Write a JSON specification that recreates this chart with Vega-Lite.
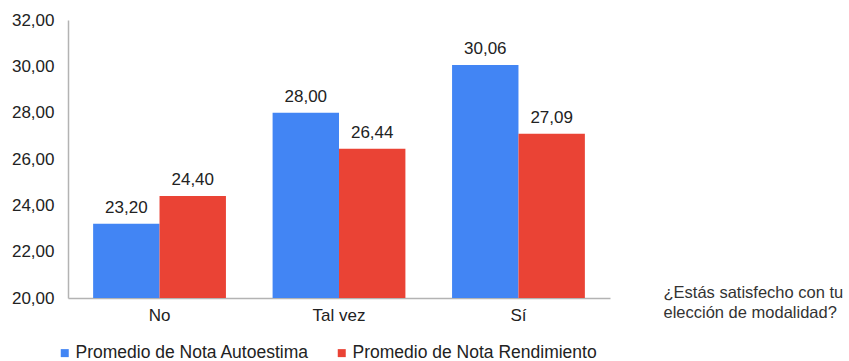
{
  "$schema": "https://vega.github.io/schema/vega-lite/v6.json",
  "width": 542,
  "height": 278,
  "autosize": {"type": "none"},
  "padding": {"left": 68, "top": 20, "right": 239, "bottom": 63},
  "background": "white",
  "config": {
    "view": {"stroke": null},
    "font": "Liberation Sans",
    "locale": {"number": {"decimal": ",", "thousands": ".", "grouping": [3], "currency": ["", ""]}}
  },
  "data": {
    "values": [
      {"cat": "No", "serie": "Promedio de Nota Autoestima", "valor": 23.20},
      {"cat": "No", "serie": "Promedio de Nota Rendimiento", "valor": 24.40},
      {"cat": "Tal vez", "serie": "Promedio de Nota Autoestima", "valor": 28.00},
      {"cat": "Tal vez", "serie": "Promedio de Nota Rendimiento", "valor": 26.44},
      {"cat": "Sí", "serie": "Promedio de Nota Autoestima", "valor": 30.06},
      {"cat": "Sí", "serie": "Promedio de Nota Rendimiento", "valor": 27.09}
    ]
  },
  "encoding": {
    "x": {
      "field": "cat", "type": "nominal", "sort": ["No", "Tal vez", "Sí"],
      "scale": {"paddingInner": 0.26, "paddingOuter": 0.14},
      "axis": {
        "title": ["¿Estás satisfecho con tu", "elección de modalidad?"],
        "titleX": 595, "titleY": -14, "titleAlign": "left", "titleBaseline": "top",
        "titleAnchor": null, "titleAngle": 0,
        "titleFontSize": 16.5, "titleFontWeight": "normal", "titleColor": "#333333", "titleLineHeight": 20,
        "labelAngle": 0, "labelFontSize": 17, "labelColor": "#222222", "labelPadding": 9,
        "ticks": false, "tickSize": 0, "domainColor": "#b3b3b3", "domainWidth": 1.5, "grid": false
      }
    },
    "xOffset": {"field": "serie", "type": "nominal"},
    "y": {
      "field": "valor", "type": "quantitative",
      "scale": {"domain": [20, 32], "zero": false, "nice": false},
      "axis": {
        "title": null, "values": [20, 22, 24, 26, 28, 30, 32], "format": ".2f",
        "labelFontSize": 17, "labelColor": "#222222", "labelPadding": 14,
        "ticks": false, "tickSize": 0, "domainColor": "#b3b3b3", "domainWidth": 1.5, "grid": false
      }
    }
  },
  "layer": [
    {
      "mark": {"type": "bar"},
      "encoding": {
        "y2": {"datum": 20},
        "color": {
          "field": "serie", "type": "nominal",
          "scale": {"domain": ["Promedio de Nota Autoestima", "Promedio de Nota Rendimiento"], "range": ["#4285F4", "#EA4335"]},
          "legend": {
            "title": null, "orient": "none", "direction": "horizontal",
            "legendX": -12, "legendY": 324, "padding": 0,
            "symbolType": "square", "symbolSize": 64, "symbolStrokeWidth": 0,
            "labelFontSize": 17.5, "labelColor": "#222222", "labelOffset": 2,
            "columnPadding": 24, "labelLimit": 400
          }
        }
      }
    },
    {
      "mark": {"type": "text", "dy": -11, "baseline": "alphabetic", "fontSize": 17, "color": "#222222"},
      "encoding": {
        "text": {"field": "valor", "type": "quantitative", "format": ".2f"}
      }
    }
  ]
}
